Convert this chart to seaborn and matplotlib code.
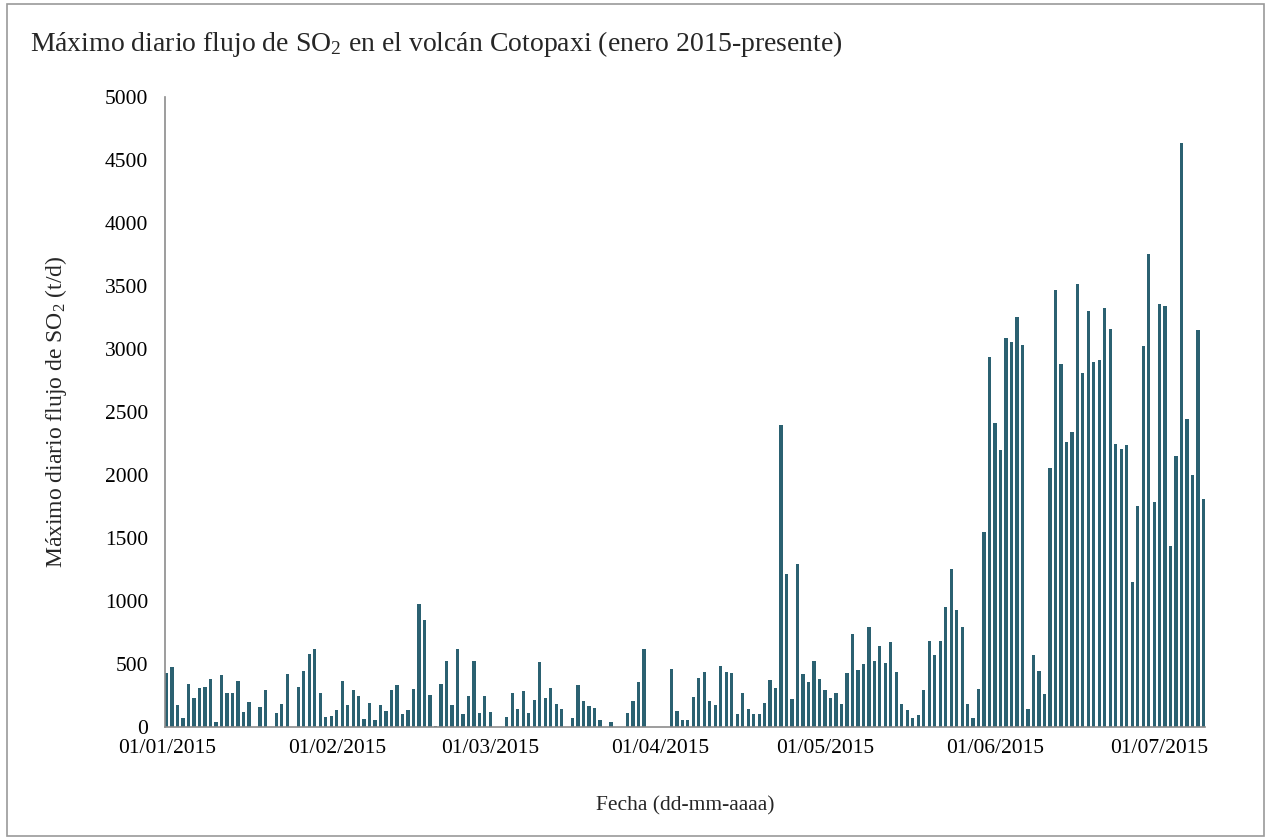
"""Daily maximum SO2 flux at Cotopaxi, Jan-Jul 2015, redrawn as a bar chart."""

import matplotlib

matplotlib.use("Agg")
import matplotlib.pyplot as plt
import numpy as np
import pandas as pd
import seaborn as sns
from matplotlib.patches import Rectangle

# daily maximum SO2 flux (t/d), one value per day starting 01/01/2015; None = no data
FLUX = [
    426, 475, 178, 74, 342, 230, 307, 315, 378, 37,
    410, 268, 272, 366, 118, 198, None, 160, 292, None,
    108, 182, 418, None, 315, 445, 578, 622, 272, 82,
    85, 135, 363, 178, 290, 246, 62, 193, 57, 175,
    126, 290, 332, 100, 138, 305, 980, 852, 258, 10,
    342, 525, 172, 618, 105, 250, 525, 115, 250, 120,
    None, None, 78, 268, 140, 285, 115, 218, 518, 230,
    310, 183, 140, None, 70, 330, 205, 168, 152, 58,
    None, 38, None, None, 115, 210, 360, 618, None, None,
    None, None, 458, 128, 52, 57, 240, 392, 436, 204,
    178, 484, 434, 428, 100, 272, 140, 105, 105, 193,
    376, 312, 2395, 1215, 223, 1295, 424, 355, 528, 384,
    296, 228, 270, 184, 426, 740, 450, 500, 792, 528,
    645, 512, 675, 437, 184, 134, 68, 95, 290, 685,
    572, 680, 955, 1258, 932, 792, 185, 75, 302, 1545,
    2935, 2412, 2202, 3090, 3058, 3255, 3032, 142, 575, 448,
    262, 2055, 3470, 2880, 2265, 2345, 3515, 2810, 3305, 2900,
    2915, 3330, 3160, 2250, 2205, 2240, 1150, 1755, 3025, 3755,
    1790, 3355, 3340, 1440, 2155, 4640, 2445, 2000, 3155, 1810,
]
MONTH_START_DAYS = [0, 31, 59, 90, 120, 151, 181]
MONTH_LABELS = ["01/01/2015", "01/02/2015", "01/03/2015", "01/04/2015",
                "01/05/2015", "01/06/2015", "01/07/2015"]
Y_TICKS = list(range(0, 5001, 500))

BAR_COLOR = "#2b6171"
AXIS_COLOR = "#8c8c8c"
SERIF = ["Liberation Serif", "DejaVu Serif"]


def main() -> None:
    sns.set_theme(style="white")
    plt.rcParams["font.family"] = SERIF
    plt.rcParams["mathtext.fontset"] = "custom"
    plt.rcParams["mathtext.rm"] = "Liberation Serif"
    plt.rcParams["mathtext.it"] = "Liberation Serif:italic"

    days = np.arange(len(FLUX))
    df = pd.DataFrame({"day": days, "flux": [np.nan if v is None else v for v in FLUX]})

    fig = plt.figure(figsize=(12.67, 8.39), dpi=100)
    ax = fig.add_axes([0.130, 0.1335, 0.821, 0.7505])
    sns.barplot(data=df, x="day", y="flux", order=list(days), color=BAR_COLOR,
                width=0.6, saturation=1, linewidth=0, ax=ax)

    ax.set_xlim(-0.35, 189.25)
    ax.set_ylim(0, 5000)
    ax.set_yticks(Y_TICKS)
    ax.set_yticklabels([str(v) for v in Y_TICKS])
    ax.set_xticks(MONTH_START_DAYS)
    ax.set_xticklabels(MONTH_LABELS)
    ax.tick_params(axis="both", labelsize=15.5, colors="black")
    ax.tick_params(axis="y", direction="out", length=4, width=1, color=AXIS_COLOR, pad=8)
    ax.tick_params(axis="x", direction="in", length=5, width=1, color=AXIS_COLOR, pad=9)

    for side in ("top", "right"):
        ax.spines[side].set_visible(False)
    for side in ("left", "bottom"):
        ax.spines[side].set_color(AXIS_COLOR)
        ax.spines[side].set_linewidth(1.2)

    ax.set_xlabel("Fecha (dd-mm-aaaa)", fontsize=15.5, labelpad=27)
    ax.set_ylabel("Máximo diario flujo de SO$_2$ (t/d)", fontsize=17, labelpad=26)

    fig.text(0.024, 0.948, "Máximo diario flujo de SO$_2$ en el volcán Cotopaxi (enero 2015-presente)",
             fontsize=20, ha="left", va="center")

    # thin chart-area frame, slightly inset like the source image
    fig.patches.append(Rectangle((7 / 1267, 3 / 839), 1257 / 1267, 832 / 839,
                                 transform=fig.transFigure, fill=False,
                                 edgecolor="#9a9a9a", linewidth=1.2))

    fig.savefig("out.png", dpi=100)
    plt.close(fig)


if __name__ == "__main__":
    main()
